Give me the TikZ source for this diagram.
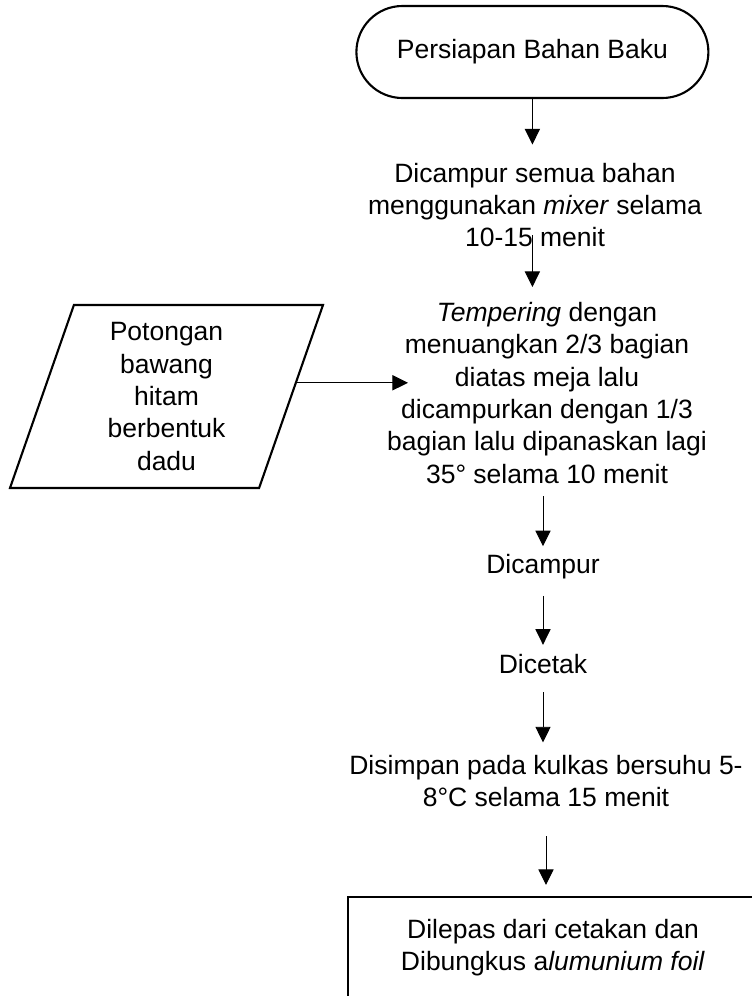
\documentclass[tikz,border=0pt]{standalone}
\usepackage{fontspec}
\setmainfont{Liberation Sans}
\usetikzlibrary{arrows.meta,shapes.geometric}

\begin{document}
\begin{tikzpicture}[x=1cm,y=1cm]
\tikzset{
  chartfont/.style={font=\fontsize{18.85}{23.1}\selectfont},
  termnode/.style={draw=black,line width=1.5pt,rounded corners=11.5mm,minimum width=8.8cm,minimum height=2.3cm,chartfont},
  textnode/.style={align=center,inner sep=0pt,chartfont},
  inputnode/.style={trapezium,trapezium left angle=66.7,trapezium right angle=113.3,trapezium stretches body,draw=black,line width=1.5pt,minimum width=7.825cm,minimum height=4.575cm,align=center,inner sep=0pt,chartfont},
  boxnode/.style={rectangle,draw=black,line width=1.5pt,minimum width=10.25cm,minimum height=2.525cm,align=center,chartfont},
  flowedge/.style={draw=black,line width=0.7pt},
  directed/.style={flowedge,-{Triangle[length=3.9mm,width=3.8mm]}}
}
\useasboundingbox (0,0) rectangle (18.8,-24.9);
\clip (0,0) rectangle (18.8,-24.9);
\node[termnode] (n_start) at (13.31,-1.30) {Persiapan Bahan Baku};
\node[textnode] (n_mix) at (13.375,-5.125) {Dicampur semua bahan\\menggunakan \textit{mixer} selama\\10-15 menit};
\begin{scope}
\clip (9.0,-7.2) rectangle (18.0,-12.12);
\node[textnode] (n_temper) at (13.675,-9.82) {\textit{Tempering} dengan\\menuangkan 2/3 bagian\\diatas meja lalu\\dicampurkan dengan 1/3\\bagian lalu dipanaskan lagi\\35° selama 10 menit};
\end{scope}
\node[inputnode] (n_bawang) at (4.1625,-9.9125) {Potongan\\bawang\\hitam\\berbentuk\\dadu};
\node[textnode] (n_campur) at (13.575,-14.17) {Dicampur};
\node[textnode] (n_cetak) at (13.575,-16.61) {Dicetak};
\node[textnode] (n_simpan) at (13.65,-19.53) {Disimpan pada kulkas bersuhu 5-\\8°C selama 15 menit};
\node[boxnode] (n_bungkus) at (13.825,-23.6875) {Dilepas dari cetakan dan\\Dibungkus a\textit{lumunium foil}};
\coordinate (n_tin) at (10.2,-9.575);
\draw[directed] (n_start.south) -- ([yshift=4.5mm]n_mix.north -| n_start.south);
\draw[directed] ([yshift=3mm]n_mix.south -| n_start.south) -- ([yshift=3.65mm]n_temper.north -| n_start.south);
\draw[directed] ([yshift=-3mm]n_temper.south -| n_campur.north) -- ([yshift=2mm]n_campur.north);
\draw[directed] ([yshift=-4.1mm]n_campur.south) -- ([yshift=2.4mm]n_cetak.north);
\draw[directed] ([yshift=-4.5mm]n_cetak.south) -- ([yshift=3.15mm]n_simpan.north -| n_cetak.south);
\draw[directed] ([yshift=-7.25mm]n_simpan.south) -- ([yshift=2.75mm]n_bungkus.north -| n_simpan.south);
\draw[directed] (n_bawang.6) -- (n_bawang.6 -| n_tin);
\end{tikzpicture}
\end{document}
